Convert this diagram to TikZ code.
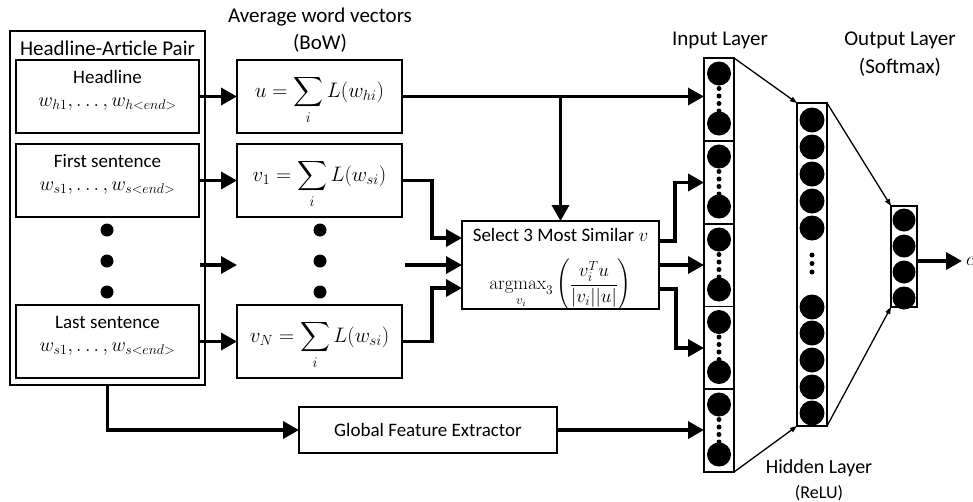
\documentclass[tikz,border=0pt]{standalone}
\usepackage{fix-cm}
\usepackage{amsmath}
\usepackage[no-math]{fontspec}
\setmainfont{Carlito}
\usetikzlibrary{arrows.meta,calc}

\begin{document}
\begin{tikzpicture}[x=1pt,y=-1pt,
  every node/.style={font=\fontsize{19}{22}\selectfont, inner sep=0pt, outer sep=0pt},
  header/.style={font=\fontsize{21}{24}\selectfont},
  wordlist/.style={font=\fontsize{20}{23}\selectfont},
  sumfont/.style={font=\fontsize{21}{24}\selectfont},
  frame/.style={draw=black, line width=1.1pt, fill=white},
  bigarrow/.style={line width=3.5pt, -{Triangle[length=16pt,width=17pt]}},
  thinarrow/.style={line width=1.3pt, -{Triangle[length=7pt,width=5pt]}},
  neuron/.style={circle, fill=black, minimum size=24pt},
  tinydot/.style={circle, fill=black, minimum size=5pt},
  bigdot/.style={circle, fill=black, minimum size=13pt}
]
\fill[white] (0,0) rectangle (973,501);
\useasboundingbox (0,0) rectangle (973,501);

% ---- input text column ----
\node[frame, minimum width=195pt, minimum height=354pt] (pair) at (107.5,208) {};
\node[header] (pairtitle) at (107.5,48) {Headline-Article Pair};

\node[frame, minimum width=183pt, minimum height=73pt] (hl) at (107.5,96.5) {};
\node (hltxt) at (107.5,77) {Headline};
\node[wordlist] (hlmath) at (107.5,104) {$w_{h1},\dots,w_{h<end>}$};

\node[frame, minimum width=183pt, minimum height=73pt] (fs) at (107.5,180.5) {};
\node (fstxt) at (107.5,161) {First sentence};
\node[wordlist] (fsmath) at (107.5,188) {$w_{s1},\dots,w_{s<end>}$};

\node[frame, minimum width=183pt, minimum height=73pt] (ls) at (107.5,341.5) {};
\node (lstxt) at (107.5,322) {Last sentence};
\node[wordlist] (lsmath) at (107.5,349) {$w_{s1},\dots,w_{s<end>}$};

\node[bigdot] (ld1) at (107,230) {};
\node[bigdot] (ld2) at (107,261) {};
\node[bigdot] (ld3) at (107,292) {};

% ---- bag-of-words column ----
\node[header] (bowa) at (320,17) {Average word vectors};
\node[header] (bowb) at (320,43) {(BoW)};

\node[frame, minimum width=165pt, minimum height=73pt] (ub) at (319.5,96.5) {};
\node[sumfont] (ubmath) at (319.5,100) {$u=\displaystyle\sum_i L(w_{hi})$};
\node[frame, minimum width=165pt, minimum height=73pt] (v1) at (319.5,180.5) {};
\node[sumfont] (v1math) at (319.5,184) {$v_1=\displaystyle\sum_i L(w_{si})$};
\node[frame, minimum width=165pt, minimum height=73pt] (vN) at (319.5,341.5) {};
\node[sumfont] (vNmath) at (319.5,345) {$v_N=\displaystyle\sum_i L(w_{si})$};

\node[bigdot] (md1) at (320,230) {};
\node[bigdot] (md2) at (320,261) {};
\node[bigdot] (md3) at (320,292) {};

% ---- similarity selection ----
\node[frame, minimum width=197pt, minimum height=88pt] (sel) at (560.5,265) {};
\node (seltxt) at (560.5,235) {Select 3 Most Similar $v$};
\node (selmath) at (560.5,285) {$\displaystyle\underset{v_i}{\mathrm{argmax}_3}\left(\frac{v_i^T u}{|v_i||u|}\right)$};

% ---- global features ----
\node[frame, minimum width=258pt, minimum height=46pt] (gfe) at (428,430) {Global Feature Extractor};

% ---- input layer ----
\foreach \c [count=\k] in {99.5,182.5,265.5,348,430.5} {
  \node[frame, minimum width=30pt, minimum height=83pt] (in\k) at (719,\c) {};
  \node[neuron] (in\k-a) at (719,\c-26) {};
  \node[neuron] (in\k-b) at (719,\c+24) {};
  \foreach \d in {-11,-3.5,4,11.5}
    \node[tinydot] at (719,\c+\d) {};
}
\node[header] (inlabel) at (720,40) {Input Layer};

% ---- hidden layer ----
\node[frame, minimum width=30pt, minimum height=323pt] (hid) at (812,264.5) {};
\foreach \y in {120,147,174,201,228,307,333,360,387,413}
  \node[neuron, minimum size=25pt] at (812,\y) {};
\foreach \y in {255,263.5,272}
  \node[tinydot] at (812,\y) {};
\node (hidlabel) at (819,468) {\fontsize{20}{23}\selectfont Hidden Layer};
\node (hidlabelb) at (819,493) {\fontsize{18}{21}\selectfont (ReLU)};

% ---- output layer ----
\node[frame, minimum width=26pt, minimum height=101pt] (out) at (904,256.5) {};
\foreach \y in {220,246,272,298}
  \node[neuron, minimum size=23pt] at (904,\y) {};
\node[header] (outlabel) at (900,40) {Output Layer};
\node[header] (outlabelb) at (900,67) {(Softmax)};
\node[anchor=west] (cls) at (966,261) {$c$};
\coordinate (clstip) at (962,261);

% ---- connectors ----
\coordinate (lmid) at (200,265);
\coordinate (rmid) at (237,265);
\coordinate (cmid) at (405,265);

\draw[bigarrow] (hl.east) -- (ub.west);
\draw[bigarrow] (fs.east) -- (v1.west);
\draw[bigarrow] (lmid) -- (rmid);
\draw[bigarrow] (ls.east) -- (vN.west);

\draw[bigarrow] (ub.east) -- (ub.east -| in1.west);
\draw[bigarrow] (ub.east -| sel.north) -- (sel.north);
\draw[bigarrow] (v1.east) -- ++(30,0) |- ($(sel.west)+(0,-27)$);
\draw[bigarrow] (cmid) -- (sel.west);
\draw[bigarrow] (vN.east) -- ++(30,0) |- ($(sel.west)+(0,23)$);

\draw[bigarrow] ($(sel.east)+(0,-24)$) -- ++(16,0) |- (in2.west);
\draw[bigarrow] (sel.east) -- (sel.east -| in3.west);
\draw[bigarrow] ($(sel.east)+(0,24)$) -- ++(17,0) |- (in4.west);

\draw[bigarrow] (pair.south) |- (gfe.west);
\draw[bigarrow] (gfe.east) -- (gfe.east -| in5.west);

\draw[thinarrow] (in1.north east) -- (hid.north west);
\draw[thinarrow] (in5.south east) -- (hid.south west);
\draw[thinarrow] (hid.north east) -- (out.north west);
\draw[thinarrow] (hid.south east) -- (out.south west);

\draw[bigarrow] (out.east |- clstip) -- (clstip);
\end{tikzpicture}
\end{document}
